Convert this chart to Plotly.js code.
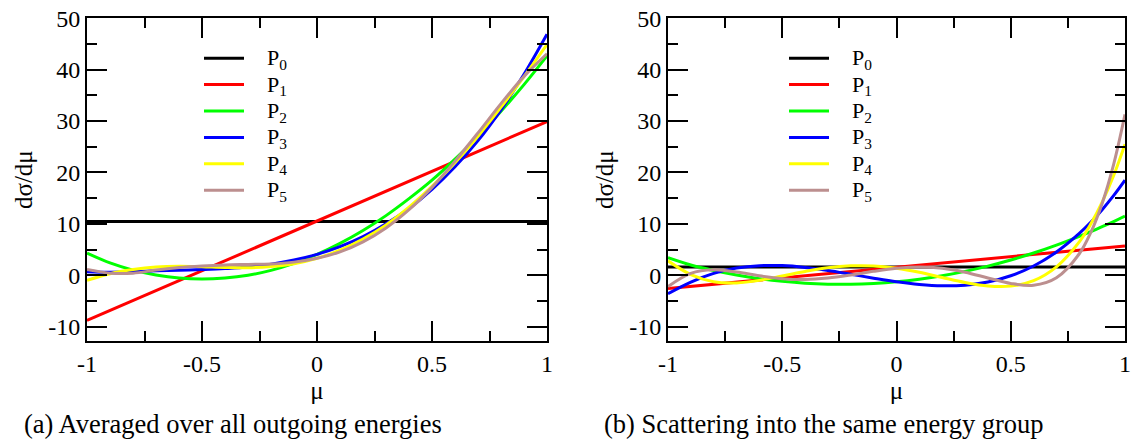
<!DOCTYPE html>
<html><head><meta charset="utf-8">
<script src="https://cdn.plot.ly/plotly-3.0.1.min.js"></script>
<style>html,body{margin:0;padding:0;background:#fff}#chart{width:1133px;height:441px}</style>
</head><body><div id="chart"></div>
<script>
// ---- data ----
const lineMu = [-1, 1];
const muA = [-1,-0.9,-0.8,-0.7,-0.6,-0.5,-0.4,-0.3,-0.2,-0.1,0,0.1,0.2,0.3,0.4,0.5,0.6,0.7,0.8,0.9,1];
const muB = [-1,-0.9,-0.8,-0.7,-0.6,-0.5,-0.4,-0.3,-0.2,-0.1,0,0.1,0.2,0.3,0.4,0.5,0.6,0.7,0.8,0.85,0.9,0.95,1];

// (a) averaged over all outgoing energies
const a_P0 = [10.45, 10.45];
const a_P1 = [-8.8, 29.9];
const a_P2 = [4.3,2.4,1.0,0.05,-0.55,-0.75,-0.55,0.0,0.95,2.3,4.05,6.2,8.7,11.6,14.9,18.5,22.6,27.0,31.9,37.1,42.7];
const a_P3 = [0.7,0.6,0.7,0.85,0.95,1.1,1.3,1.6,2.15,2.95,4.05,5.55,7.5,10.0,13.0,16.7,21.1,26.2,32.2,39.1,46.9];
const a_P4 = [-1.0,0.3,1.1,1.6,1.75,1.65,1.5,1.45,1.7,2.25,3.3,4.9,7.05,9.8,13.25,17.3,21.9,27.05,32.7,38.65,44.9];
const a_P5 = [1.1,0.4,0.4,1.0,1.5,1.8,2.0,2.1,2.2,2.55,3.3,4.55,6.5,9.2,12.75,17.1,22.2,27.7,33.4,38.7,43.1];

// (b) scattering into the same energy group
const b_P0 = [1.6, 1.6];
const b_P1 = [-2.6, 5.7];
const b_P2 = [3.4,1.98,0.92,0.05,-0.66,-1.19,-1.56,-1.74,-1.76,-1.6,-1.28,-0.77,-0.1,0.75,1.77,2.96,4.32,5.86,7.57,8.48,9.45,10.45,11.5];
const b_P3 = [-3.6,-1.33,0.36,1.4,1.86,1.87,1.52,0.94,0.2,-0.57,-1.28,-1.8,-2.06,-1.93,-1.31,-0.1,1.8,4.51,8.13,10.3,12.76,15.48,18.5];
const b_P4 = [2.8,0.13,-1.27,-1.49,-1.0,-0.15,0.73,1.45,1.82,1.8,1.35,0.57,-0.44,-1.42,-2.1,-2.12,-1.06,1.63,6.5,9.95,14.22,19.36,25.5];
const b_P5 = [-2.2,0.37,1.05,0.63,-0.12,-0.67,-0.84,-0.55,0.04,0.76,1.35,1.61,1.34,0.58,-0.53,-1.6,-1.95,-0.49,4.18,8.29,13.98,21.52,31.3];

const seriesNames = ['P<sub>0</sub>','P<sub>1</sub>','P<sub>2</sub>','P<sub>3</sub>','P<sub>4</sub>','P<sub>5</sub>'];
const seriesColors = ['#000000','#ff0000','#00ff00','#0000ff','#ffff00','#bc8f8f'];
const xTickVals = [-1,-0.5,0,0.5,1];
const xTickText = ['-1','-0.5','0','0.5','1'];
const yTickVals = [-10,0,10,20,30,40,50];
const yTickText = ['-10','0','10','20','30','40','50'];
const captions = ['(a) Averaged over all outgoing energies','(b) Scattering into the same energy group'];

// ---- build traces ----
const FONT = 'Liberation Serif';
const setA = [[lineMu,a_P0],[lineMu,a_P1],[muA,a_P2],[muA,a_P3],[muA,a_P4],[muA,a_P5]];
const setB = [[lineMu,b_P0],[lineMu,b_P1],[muB,b_P2],[muB,b_P3],[muB,b_P4],[muB,b_P5]];
const pad = '&nbsp;&nbsp;&nbsp;&nbsp;';
const label = n => pad + '<span style="font-size:22px">' + n + '</span>';
const traces = [];
setA.forEach((s,i)=>traces.push({x:s[0],y:s[1],mode:'lines',name:label(seriesNames[i]),
  line:{color:seriesColors[i],width:3,shape:'spline',smoothing:1},xaxis:'x',yaxis:'y',legend:'legend'}));
setB.forEach((s,i)=>traces.push({x:s[0],y:s[1],mode:'lines',name:label(seriesNames[i]),
  line:{color:seriesColors[i],width:3,shape:'spline',smoothing:1},xaxis:'x2',yaxis:'y2',legend:'legend2'}));

function xax(domain, anchor){
  return {domain:domain, anchor:anchor, range:[-1,1], tickvals:xTickVals, ticktext:xTickText,
    ticks:'inside', ticklen:20, tickwidth:2, tickcolor:'#000', mirror:'allticks',
    showline:true, linecolor:'#000', linewidth:2, showgrid:false, zeroline:false,
    minor:{tickvals:[-0.75,-0.25,0.25,0.75], ticks:'inside', ticklen:10, tickwidth:2, tickcolor:'#000'},
    tickfont:{family:FONT,size:24,color:'#000'},
    title:{text:'μ', font:{family:FONT,size:25,color:'#000'}, standoff:0}};
}
function yax(domain, anchor){
  return {domain:domain, anchor:anchor, range:[-12.8,50], tickvals:yTickVals, ticktext:yTickText,
    ticks:'inside', ticklen:20, tickwidth:2, tickcolor:'#000', mirror:'allticks',
    showline:true, linecolor:'#000', linewidth:2, showgrid:false, zeroline:false,
    minor:{tickvals:[-5,5,15,25,35,45], ticks:'inside', ticklen:10, tickwidth:2, tickcolor:'#000'},
    tickfont:{family:FONT,size:24,color:'#000'},
    title:{text:'dσ/dμ', font:{family:FONT,size:25,color:'#000'}, standoff:8}};
}
const W=1133,H=441;
const yDom=[1-341/H, 1-18.3/H];
const legendCommon = {xanchor:'left', yanchor:'top', bgcolor:'rgba(0,0,0,0)', borderwidth:0,
  font:{family:FONT,size:18,color:'#000'}, tracegroupgap:0, itemwidth:40};
const layout = {
  width:W, height:H, margin:{l:0,r:0,t:0,b:0}, paper_bgcolor:'#fff', plot_bgcolor:'#fff',
  showlegend:true,
  xaxis: xax([87/W, 547/W],'y'),
  yaxis: yax(yDom,'x'),
  xaxis2: xax([668/W, 1125/W],'y2'),
  yaxis2: yax(yDom,'x2'),
  legend: Object.assign({x:199/W, y:1-40/H}, legendCommon),
  legend2: Object.assign({x:784/W, y:1-40/H}, legendCommon),
  annotations:[
    {text:captions[0], xref:'paper', yref:'paper', x:22/W, y:1-424/H, xanchor:'left', yanchor:'middle',
     showarrow:false, font:{family:FONT,size:26.5,color:'#000'}},
    {text:captions[1], xref:'paper', yref:'paper', x:602/W, y:1-424/H, xanchor:'left', yanchor:'middle',
     showarrow:false, font:{family:FONT,size:26.5,color:'#000'}}
  ]
};
Plotly.newPlot('chart', traces, layout, {staticPlot:true, displayModeBar:false});
</script></body></html>
